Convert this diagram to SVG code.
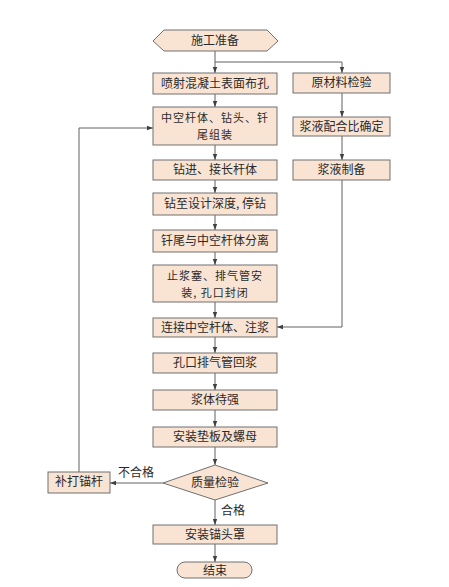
<svg xmlns="http://www.w3.org/2000/svg" width="449" height="587" viewBox="0 0 449 587">
<defs>
<style>
.n{fill:#f9e4d4;stroke:#707070;stroke-width:1}
.t{font-family:"Noto Sans CJK SC","Liberation Serif",serif;font-size:12px;fill:#2a2a2a;text-anchor:middle}
.t2{font-size:11px}
.c{fill:none;stroke:#606060;stroke-width:1}
</style>
<marker id="a" viewBox="0 0 6 6" refX="6" refY="3" markerWidth="6" markerHeight="6" orient="auto" markerUnits="userSpaceOnUse">
<path d="M0,0.8 L6,3 L0,5.2 Z" fill="#404040"/>
</marker>
</defs>
<rect width="449" height="587" fill="#ffffff"/>
<g id="connectors">
<path class="c" d="M215,51 V73" marker-end="url(#a)"/>
<path class="c" d="M215,62 H342 V73" marker-end="url(#a)"/>
<path class="c" d="M215,94 V107" marker-end="url(#a)"/>
<path class="c" d="M215,145 V160" marker-end="url(#a)"/>
<path class="c" d="M215,180 V193" marker-end="url(#a)"/>
<path class="c" d="M215,215 V230" marker-end="url(#a)"/>
<path class="c" d="M215,252 V265" marker-end="url(#a)"/>
<path class="c" d="M215,302 V318" marker-end="url(#a)"/>
<path class="c" d="M215,337 V353" marker-end="url(#a)"/>
<path class="c" d="M215,373 V390" marker-end="url(#a)"/>
<path class="c" d="M215,410 V427" marker-end="url(#a)"/>
<path class="c" d="M215,447 V465" marker-end="url(#a)"/>
<path class="c" d="M215,500 V525" marker-end="url(#a)"/>
<path class="c" d="M215,544 V562" marker-end="url(#a)"/>
<path class="c" d="M342,93 V117" marker-end="url(#a)"/>
<path class="c" d="M342,136 V160" marker-end="url(#a)"/>
<path class="c" d="M342,180 V327 H277" marker-end="url(#a)"/>
<path class="c" d="M163,483 H110" marker-end="url(#a)"/>
<path class="c" d="M79,472 V128 H153" marker-end="url(#a)"/>
<text class="t" x="136" y="477">不合格</text>
<text class="t" x="233" y="515">合格</text>
</g>
<g id="start"><polygon class="n" points="153,41 164,30 267,30 278,41 267,51 164,51"/><text class="t" x="215" y="45">施工准备</text></g>
<g id="n1"><rect class="n" x="153" y="73" width="124" height="21"/><text class="t" x="215" y="88">喷射混凝土表面布孔</text></g>
<g id="n2"><rect class="n" x="153" y="107" width="124" height="38"/><text class="t t2" x="215" y="122" letter-spacing="1">中空杆体、钻头、钎</text><text class="t t2" x="215" y="139" letter-spacing="1">尾组装</text></g>
<g id="n3"><rect class="n" x="153" y="160" width="124" height="20"/><text class="t" x="215" y="174">钻进、接长杆体</text></g>
<g id="n4"><rect class="n" x="153" y="193" width="124" height="22"/><text class="t" x="215" y="208">钻至设计深度, 停钻</text></g>
<g id="n5"><rect class="n" x="153" y="230" width="124" height="22"/><text class="t" x="215" y="245">钎尾与中空杆体分离</text></g>
<g id="n6"><rect class="n" x="153" y="265" width="124" height="37"/><text class="t t2" x="215" y="280" letter-spacing="1">止浆塞、排气管安</text><text class="t t2" x="215" y="297" letter-spacing="1">装, 孔口封闭</text></g>
<g id="n7"><rect class="n" x="153" y="318" width="124" height="19"/><text class="t" x="215" y="332">连接中空杆体、注浆</text></g>
<g id="n8"><rect class="n" x="153" y="353" width="124" height="20"/><text class="t" x="215" y="367">孔口排气管回浆</text></g>
<g id="n9"><rect class="n" x="153" y="390" width="124" height="20"/><text class="t" x="215" y="404">浆体待强</text></g>
<g id="n10"><rect class="n" x="153" y="427" width="124" height="20"/><text class="t" x="215" y="441">安装垫板及螺母</text></g>
<g id="check"><polygon class="n" points="163,483 215,465 268,483 215,500"/><text class="t" x="215" y="487">质量检验</text></g>
<g id="redo"><rect class="n" x="48" y="472" width="62" height="21"/><text class="t" x="79" y="486">补打锚杆</text></g>
<g id="n11"><rect class="n" x="153" y="525" width="124" height="19"/><text class="t" x="215" y="539">安装锚头罩</text></g>
<g id="end"><rect class="n" x="177" y="562" width="75" height="16" rx="8"/><text class="t" x="215" y="574.5">结束</text></g>
<g id="r1"><rect class="n" x="293" y="73" width="97" height="20"/><text class="t" x="341.5" y="87">原材料检验</text></g>
<g id="r2"><rect class="n" x="293" y="117" width="97" height="19"/><text class="t" x="341.5" y="131">浆液配合比确定</text></g>
<g id="r3"><rect class="n" x="293" y="160" width="97" height="20"/><text class="t" x="341.5" y="174">浆液制备</text></g>
</svg>
